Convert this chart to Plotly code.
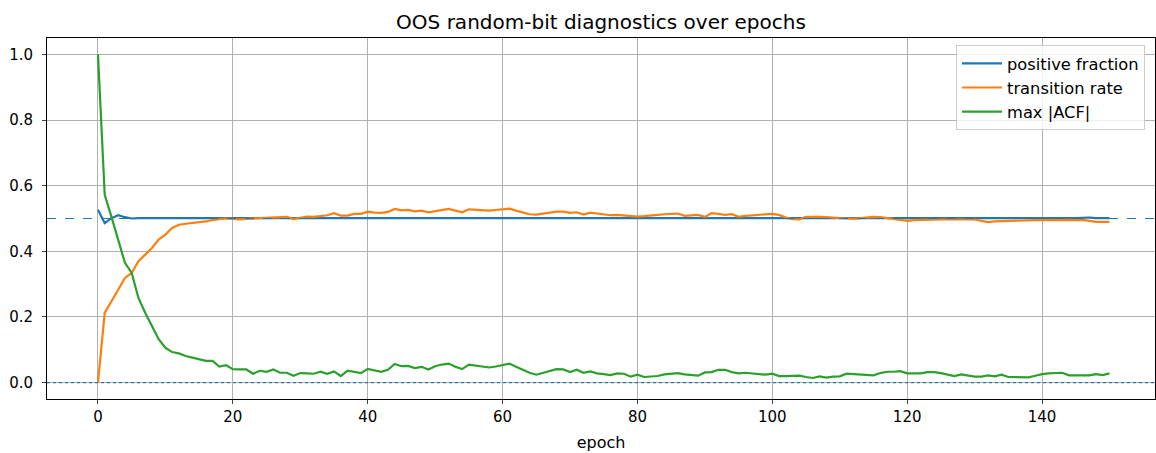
import plotly.graph_objects as go

epochs = list(range(151))

positive_fraction = [
    0.527, 0.486, 0.501, 0.510, 0.504, 0.500, 0.501, 0.501, 0.500, 0.501,
    0.500, 0.500, 0.500, 0.499, 0.500, 0.500, 0.500, 0.499, 0.500, 0.500,
    0.500, 0.500, 0.499, 0.500, 0.500, 0.500, 0.500, 0.500, 0.500, 0.499,
    0.500, 0.500, 0.500, 0.500, 0.500, 0.501, 0.500, 0.500, 0.500, 0.501,
    0.501, 0.500, 0.500, 0.500, 0.500, 0.500, 0.500, 0.500, 0.500, 0.500,
    0.500, 0.500, 0.499, 0.500, 0.500, 0.500, 0.500, 0.500, 0.500, 0.500,
    0.501, 0.500, 0.500, 0.500, 0.500, 0.500, 0.500, 0.500, 0.500, 0.500,
    0.500, 0.500, 0.500, 0.500, 0.499, 0.500, 0.500, 0.500, 0.500, 0.500,
    0.500, 0.500, 0.500, 0.500, 0.500, 0.500, 0.500, 0.499, 0.499, 0.500,
    0.500, 0.500, 0.500, 0.500, 0.501, 0.500, 0.500, 0.500, 0.500, 0.500,
    0.500, 0.500, 0.500, 0.500, 0.500, 0.500, 0.500, 0.501, 0.500, 0.500,
    0.500, 0.500, 0.500, 0.500, 0.500, 0.500, 0.500, 0.500, 0.500, 0.501,
    0.500, 0.500, 0.500, 0.500, 0.500, 0.500, 0.500, 0.500, 0.500, 0.500,
    0.501, 0.501, 0.501, 0.501, 0.500, 0.500, 0.501, 0.500, 0.500, 0.500,
    0.501, 0.501, 0.501, 0.501, 0.501, 0.501, 0.502, 0.503, 0.501, 0.501,
    0.501,
]

transition_rate = [
    0.000, 0.213, 0.248, 0.284, 0.319, 0.334, 0.370, 0.390, 0.410, 0.436,
    0.451, 0.471, 0.481, 0.484, 0.486, 0.488, 0.491, 0.496, 0.499, 0.500,
    0.499, 0.497, 0.499, 0.500, 0.503, 0.504, 0.503, 0.505, 0.505, 0.498,
    0.503, 0.506, 0.505, 0.507, 0.510, 0.516, 0.509, 0.509, 0.514, 0.514,
    0.521, 0.518, 0.517, 0.520, 0.529, 0.525, 0.526, 0.522, 0.524, 0.519,
    0.523, 0.527, 0.529, 0.524, 0.519, 0.528, 0.527, 0.525, 0.524, 0.526,
    0.528, 0.530, 0.524, 0.518, 0.513, 0.512, 0.515, 0.518, 0.521, 0.521,
    0.517, 0.519, 0.512, 0.518, 0.515, 0.514, 0.510, 0.511, 0.509, 0.507,
    0.506, 0.507, 0.508, 0.511, 0.513, 0.513, 0.515, 0.508, 0.510, 0.511,
    0.505, 0.516, 0.514, 0.511, 0.513, 0.505, 0.508, 0.510, 0.511, 0.512,
    0.514, 0.511, 0.503, 0.498, 0.497, 0.505, 0.506, 0.505, 0.504, 0.502,
    0.501, 0.500, 0.499, 0.501, 0.503, 0.505, 0.504, 0.501, 0.497, 0.495,
    0.493, 0.495, 0.496, 0.497, 0.496, 0.497, 0.497, 0.497, 0.498, 0.499,
    0.497, 0.493, 0.489, 0.491, 0.492, 0.493, 0.493, 0.494, 0.494, 0.495,
    0.495, 0.495, 0.495, 0.496, 0.495, 0.495, 0.496, 0.493, 0.490, 0.490,
    0.490,
]

max_acf = [
    1.000, 0.572, 0.505, 0.433, 0.365, 0.334, 0.258, 0.213, 0.172, 0.132,
    0.106, 0.093, 0.089, 0.081, 0.076, 0.071, 0.066, 0.066, 0.049, 0.053,
    0.041, 0.040, 0.040, 0.027, 0.036, 0.033, 0.040, 0.030, 0.030, 0.021,
    0.029, 0.028, 0.027, 0.033, 0.027, 0.034, 0.020, 0.036, 0.032, 0.029,
    0.042, 0.037, 0.033, 0.039, 0.057, 0.050, 0.051, 0.044, 0.048, 0.040,
    0.050, 0.055, 0.058, 0.048, 0.041, 0.055, 0.052, 0.050, 0.046, 0.049,
    0.054, 0.058, 0.048, 0.039, 0.030, 0.024, 0.029, 0.036, 0.041, 0.040,
    0.032, 0.039, 0.030, 0.034, 0.028, 0.026, 0.023, 0.028, 0.027, 0.018,
    0.024, 0.017, 0.018, 0.020, 0.025, 0.026, 0.029, 0.025, 0.023, 0.021,
    0.031, 0.032, 0.039, 0.039, 0.032, 0.028, 0.030, 0.028, 0.026, 0.024,
    0.027, 0.020, 0.020, 0.021, 0.021, 0.017, 0.014, 0.019, 0.015, 0.018,
    0.019, 0.027, 0.026, 0.025, 0.024, 0.022, 0.029, 0.033, 0.033, 0.035,
    0.028, 0.028, 0.028, 0.032, 0.032, 0.029, 0.024, 0.020, 0.025, 0.022,
    0.018, 0.018, 0.022, 0.019, 0.024, 0.017, 0.016, 0.016, 0.016, 0.021,
    0.026, 0.028, 0.030, 0.030, 0.022, 0.021, 0.022, 0.022, 0.026, 0.023,
    0.028,
]

series_names = ["positive fraction", "transition rate", "max |ACF|"]
colors = ["#1f77b4", "#ff7f0e", "#2ca02c"]
x_ticks = [0, 20, 40, 60, 80, 100, 120, 140]
y_ticks = [0.0, 0.2, 0.4, 0.6, 0.8, 1.0]

fig = go.Figure()
for name, vals, col in zip(series_names, [positive_fraction, transition_rate, max_acf], colors):
    fig.add_trace(go.Scatter(x=epochs, y=vals, mode="lines", name=name,
                             line=dict(color=col, width=2.2)))

fig.add_hline(y=0.5, line=dict(color="#1f77b4", width=1.2, dash="dash"))
fig.add_hline(y=0.0, line=dict(color="#1f77b4", width=1.2, dash="dot"))

font_family = "DejaVu Sans"
fig.update_layout(
    width=1156, height=453,
    margin=dict(l=47, r=1, t=38, b=54, autoexpand=False),
    paper_bgcolor="white", plot_bgcolor="white",
    font=dict(family=font_family, size=15, color="black"),
    title=dict(text="OOS random-bit diagnostics over epochs", x=0.5, xanchor="center",
               xref="paper", y=0.952, yanchor="middle", font=dict(size=20, family=font_family)),
    legend=dict(x=0.991, y=0.98, xanchor="right", yanchor="top",
                bgcolor="rgba(255,255,255,0.8)", bordercolor="#cccccc", borderwidth=1,
                font=dict(size=16.3), tracegroupgap=0, itemwidth=40),
    showlegend=True,
)
fig.update_xaxes(range=[-7.56, 156.75], tickvals=x_ticks, ticks="outside", ticklen=4,
                 automargin=False,
                 showgrid=True, gridcolor="#b0b0b0", gridwidth=1, zeroline=False,
                 showline=True, linecolor="black", linewidth=1, mirror=True,
                 title=dict(text="epoch", font=dict(size=16), standoff=11))
fig.update_yaxes(range=[-0.05, 1.05], tickvals=y_ticks, ticktext=[f"{v:.1f}" for v in y_ticks],
                 ticks="outside", ticklen=4, automargin=False, ticklabelstandoff=6,
                 showgrid=True, gridcolor="#b0b0b0", gridwidth=1, zeroline=False,
                 showline=True, linecolor="black", linewidth=1, mirror=True)

fig.write_html(
    "out.html",
    config={"responsive": False, "displayModeBar": False},
    post_script="document.body.style.margin='0px'; document.body.style.overflow='hidden';",
)
